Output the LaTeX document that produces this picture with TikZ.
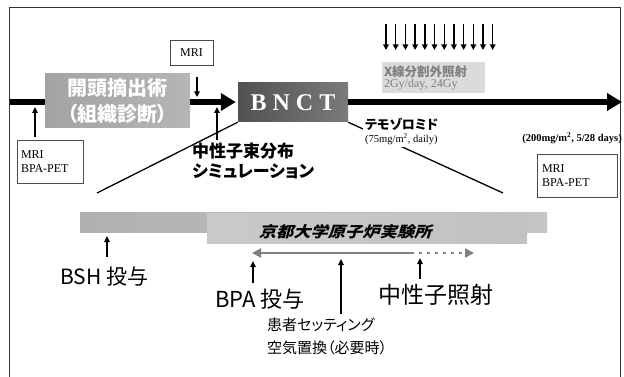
\documentclass[tikz,border=0pt]{standalone}
\usepackage{fontspec}
\setmainfont{Liberation Serif}
\newfontfamily\jp{Noto Sans CJK JP}
\newfontfamily\jpp[RawFeature=+palt]{Noto Sans CJK JP}
\newfontfamily\jps[FakeSlant=0.25,RawFeature=+palt]{Noto Sans CJK JP}
\usetikzlibrary{arrows.meta}
\tikzset{
  thickarr/.style={line width=6pt,-{Triangle[length=15pt,width=17pt]}},
  thickline/.style={line width=6pt},
  uparr/.style={line width=1.6pt,-{Triangle[length=6pt,width=5.5pt]}},
  downarr/.style={line width=1.4pt,-{Triangle[length=5.5pt,width=5.5pt]}},
  infobox/.style={draw=black!70,line width=0.6pt,fill=white,inner sep=3pt,align=left,
     font=\fontsize{12pt}{14pt}\selectfont},
  zoomline/.style={line width=1.3pt},
  jplabel/.style={inner sep=0pt,anchor=west},
}
\begin{document}
\begin{tikzpicture}[x=1pt,y=-1pt]
\useasboundingbox (0,0) rectangle (624,377);
\fill[white] (0,0) rectangle (624,377);
% frame
\draw[black!80,line width=1pt] (9,377) -- (9,8) -- (620,8) -- (620,377);

% main timeline nodes
\coordinate (t0) at (10,102);
\coordinate (tend) at (622,102);
\node[minimum width=145pt,minimum height=54pt,inner sep=0pt,
      left color=gray!72,right color=gray!58,
      text=white,align=center,font=\jpp\bfseries\fontsize{20pt}{26pt}\selectfont]
      (kaito) at (117.5,101) {開頭摘出術\\（組織診断）};
\node[minimum width=110pt,minimum height=39pt,inner sep=0pt,
      left color=black!68,right color=black!52,
      text=white,font=\bfseries\fontsize{24pt}{26pt}\selectfont]
      (bnct) at (293,102.5) {B\hspace{6pt}N\hspace{6pt}C\hspace{6pt}T};
\draw[thickline] (t0) -- (kaito.west |- t0);
\draw[thickarr,shorten >=2pt] (kaito.east |- t0) -- (bnct.west |- t0);
\draw[thickarr] (bnct.east |- t0) -- (tend);

% zoom lines
\coordinate (lz) at (97,193);
\coordinate (rz) at (503,193);
\draw[zoomline] (bnct.south west) -- (lz);
\draw[zoomline] (bnct.south east) -- (rz);

% MRI top
\node[infobox,minimum width=43pt,minimum height=25pt,align=center] (mri1) at (191.5,52.5) {MRI};
\coordinate (m1a) at (197,77);
\coordinate (m1b) at (197,97);
\draw[downarr] (m1a) -- (m1b);

% MRI BPA-PET left
\node[infobox,minimum width=66pt,minimum height=43pt,text width=58pt] (mri2) at (50,161.5) {MRI\\BPA-PET};
\coordinate (m2a) at (35,137);
\coordinate (m2b) at (35,107);
\draw[uparr] (m2a) -- (m2b);

% simulation
\coordinate (s1) at (217,140);
\coordinate (s2) at (217,107);
\draw[uparr] (s1) -- (s2);
\node[anchor=north west,inner sep=0pt,align=left,
      font=\jpp\bfseries\fontsize{17pt}{20pt}\selectfont] (sim) at (192,143)
      {中性子束分布\\シミュレーション};

% X-ray
\node[minimum width=103pt,minimum height=31pt,inner sep=2pt,fill=gray!28,
      text=black!50,align=left,text width=99pt] (xray) at (433.5,77.5)
      {{\jpp\bfseries\fontsize{12.5pt}{15pt}\selectfont X線分割外照射}\\[-1pt]
       {\fontsize{12pt}{13pt}\selectfont 2Gy/day, 24Gy}};
\foreach \i in {0,...,11}{
  \coordinate (d\i a) at ({386+9.7*\i},24);
  \coordinate (d\i b) at ({386+9.7*\i},50);
  \draw[downarr] (d\i a) -- (d\i b);
}

% temozolomide
\node[anchor=north west,fill=white,inner sep=2pt,align=left] (temo) at (363,116)
  {{\jpp\bfseries\fontsize{13pt}{15pt}\selectfont テモゾロミド}\\[1pt]
   {\fontsize{10.5pt}{11pt}\selectfont (75mg/m\textsuperscript{2}, daily)}};
\node[anchor=east,inner sep=0pt,font=\bfseries\fontsize{10.5pt}{12pt}\selectfont]
  (maint) at (622,138) {(200mg/m\textsuperscript{2}, 5/28 days)};

% MRI BPA-PET right
\node[infobox,minimum width=80pt,minimum height=43pt,text width=70pt] (mri3) at (577,175.5) {MRI\\BPA-PET};

% bands
\path[left color=gray!62,right color=gray!45] (80,212) rectangle (547,232);
\node[minimum width=320pt,minimum height=30pt,inner sep=0pt,
      left color=gray!42,middle color=gray!22,right color=gray!48] (kurri) at (367,228) {};
\node[inner sep=0pt,font=\jps\bfseries\fontsize{15pt}{16pt}\selectfont] (kurrit) at (345,232)
  {\scalebox{1.15}[1]{京都大学原子炉実験所}};

% double arrow
\coordinate (da1) at (252,253);
\coordinate (da2) at (414,253);
\coordinate (da3) at (419,253);
\coordinate (da4) at (474,253);
\draw[gray,line width=2.6pt,{Triangle[length=9pt,width=9pt]}-] (da1) -- (da2);
\draw[gray,line width=2.6pt,dash pattern=on 3pt off 5pt,-{Triangle[length=9pt,width=9pt]}] (da3) -- (da4);

% up arrows and labels
\coordinate (b1) at (107,257); \coordinate (b2) at (107,236);
\draw[uparr] (b1) -- (b2);
\node[jplabel,font=\jp\fontsize{21pt}{24pt}\selectfont] (bsh) at (60,277) {BSH 投与};

\coordinate (p1) at (253,283); \coordinate (p2) at (253,261);
\draw[uparr] (p1) -- (p2);
\node[jplabel,font=\jp\fontsize{22pt}{24pt}\selectfont] (bpa) at (215,299) {BPA 投与};

\coordinate (k1) at (341,314); \coordinate (k2) at (341,259);
\draw[uparr] (k1) -- (k2);
\node[anchor=north west,inner sep=0pt,align=left,font=\jpp\fontsize{15pt}{23pt}\selectfont]
  (kanja) at (267,318) {患者セッティング\\空気置換（必要時）};

\coordinate (n1) at (420,279); \coordinate (n2) at (420,258);
\draw[uparr] (n1) -- (n2);
\node[jplabel,font=\jp\fontsize{23pt}{25pt}\selectfont] (neut) at (378,295) {中性子照射};
\end{tikzpicture}
\end{document}
